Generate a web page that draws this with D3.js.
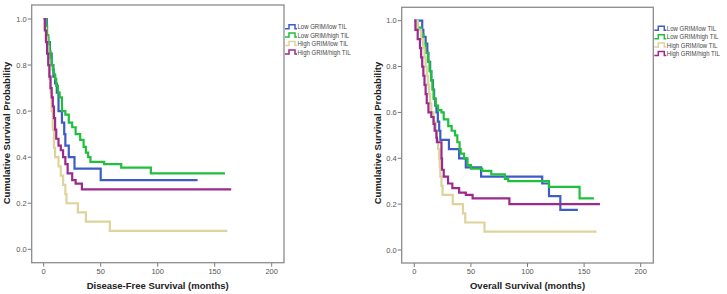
<!DOCTYPE html>
<html>
<head>
<meta charset="utf-8">
<script src="https://cdn.jsdelivr.net/npm/d3@7"></script>
<style>
body { margin: 0; background: #fff; }
text { font-family: Arial, "Liberation Sans", sans-serif; }
</style>
</head>
<body>
<div id="chart"></div>
<script>
const groups = ["Low GRIM/low TIL", "Low GRIM/high TIL", "High GRIM/low TIL", "High GRIM/high TIL"];
const colors = ["#3d5cc6", "#20bf3c", "#ddd49c", "#9b2a8c"];
const xTicks = [0, 50, 100, 150, 200];
const yTicks = [0.0, 0.2, 0.4, 0.6, 0.8, 1.0];

// Disease-free survival: event times (months) and survival after each step
const dfsLowLowT  = [0, 2.7, 4, 5.5, 7, 8.5, 10, 11.5, 13, 16, 18, 19, 22, 27, 50];
const dfsLowLowS  = [1, 0.92, 0.9, 0.85, 0.8, 0.75, 0.72, 0.68, 0.6, 0.55, 0.5, 0.45, 0.4, 0.35, 0.30];
const dfsLowHighT = [0, 2, 3, 4, 5, 6, 7, 8, 9, 10, 11, 12.5, 14, 16, 19, 22, 25, 28, 32, 35, 37, 39, 41, 53, 68, 94];
const dfsLowHighS = [1, 0.97, 0.93, 0.9, 0.86, 0.83, 0.8, 0.78, 0.76, 0.74, 0.71, 0.68, 0.66, 0.6, 0.585, 0.55, 0.53, 0.5, 0.475, 0.445, 0.42, 0.40, 0.38, 0.37, 0.355, 0.33];
const dfsHighLowT = [0, 1, 2, 3, 4, 5, 6, 7, 8, 9, 10, 13, 15, 17, 19, 20, 30, 37, 58];
const dfsHighLowS = [1, 0.96, 0.92, 0.88, 0.8, 0.74, 0.68, 0.6, 0.52, 0.44, 0.40, 0.36, 0.32, 0.28, 0.24, 0.20, 0.16, 0.12, 0.08];
const dfsHighHighT = [0, 1, 2, 3, 4, 5, 6, 7, 8, 9, 10, 11, 13, 15, 17, 19, 21, 25, 28, 33.5];
const dfsHighHighS = [1, 0.95, 0.9, 0.85, 0.8, 0.75, 0.7, 0.66, 0.62, 0.57, 0.52, 0.48, 0.45, 0.43, 0.40, 0.37, 0.33, 0.30, 0.285, 0.26];
const dfsEnd = [135, 159, 161, 164.5];

// Overall survival
const osLowLowT  = [0, 7, 8, 10, 11.5, 12.5, 14, 15, 16.5, 17.5, 18.5, 19.6, 20.8, 22, 23, 30.6, 39.6, 45.5, 59, 113, 119, 129];
const osLowLowS  = [1, 0.96, 0.93, 0.9, 0.86, 0.82, 0.78, 0.74, 0.7, 0.66, 0.63, 0.6, 0.56, 0.52, 0.48, 0.44, 0.40, 0.36, 0.32, 0.29, 0.235, 0.175];
const osLowHighT = [0, 3, 6, 8, 10, 12, 13.5, 15, 16, 17, 19, 21, 24, 26, 30, 33, 36, 38, 40, 41, 44, 47, 50, 60, 68, 80, 83, 119, 146];
const osLowHighS = [1, 0.97, 0.94, 0.9, 0.86, 0.82, 0.78, 0.74, 0.7, 0.66, 0.63, 0.61, 0.6, 0.57, 0.54, 0.52, 0.5, 0.47, 0.44, 0.42, 0.4, 0.37, 0.355, 0.345, 0.33, 0.31, 0.30, 0.275, 0.225];
const osHighLowT = [0, 3, 6, 8, 9, 10, 11, 12, 13, 14, 15, 17, 19, 20, 21, 22, 22.5, 23, 24, 25, 34, 43, 45, 62];
const osHighLowS = [1, 0.96, 0.92, 0.88, 0.84, 0.8, 0.76, 0.72, 0.68, 0.64, 0.6, 0.56, 0.52, 0.48, 0.44, 0.40, 0.36, 0.32, 0.28, 0.24, 0.2, 0.16, 0.12, 0.08];
const osHighHighT = [0, 1, 3, 5, 6, 7, 8, 9, 10, 11, 12.5, 15, 17, 18, 19.5, 20, 24, 24.5, 26, 29.8, 33.6, 39.6, 45.5, 51.5, 84];
const osHighHighS = [1, 0.96, 0.92, 0.88, 0.84, 0.8, 0.76, 0.72, 0.68, 0.64, 0.6, 0.58, 0.55, 0.52, 0.49, 0.47, 0.4, 0.35, 0.32, 0.29, 0.27, 0.25, 0.24, 0.225, 0.2];
const osEnd = [144.5, 158.7, 161, 164];

function buildSeries(times, survs, ends) {
    return times.map((t, i) => {
        var pts = t.map((d, j) => [d, survs[i][j]]);
        pts.push([ends[i], survs[i][survs[i].length - 1]]);
        return pts;
    });
}

var dfsSeries = buildSeries(
    [dfsLowLowT, dfsLowHighT, dfsHighLowT, dfsHighHighT],
    [dfsLowLowS, dfsLowHighS, dfsHighLowS, dfsHighHighS], dfsEnd);
var osSeries = buildSeries(
    [osLowLowT, osLowHighT, osHighLowT, osHighHighT],
    [osLowLowS, osLowHighS, osHighLowS, osHighHighS], osEnd);

var svg = d3.select("#chart")
    .append("svg")
    .attr("width", 727)
    .attr("height", 294);

function drawPanel(p) {
    var g = svg.append("g");

    var xScale = d3.scaleLinear().domain([0, 200]).range(p.xRange);
    var yScale = d3.scaleLinear().domain([0, 1]).range(p.yRange);

    // x ticks
    g.selectAll(".xt")
        .data(xTicks)
        .enter()
        .append("line")
        .attr("x1", d => xScale(d)).attr("x2", d => xScale(d))
        .attr("y1", p.frame[3]).attr("y2", p.frame[3] + 4)
        .attr("stroke", "#777").attr("stroke-width", 1);
    g.selectAll(".xl")
        .data(xTicks)
        .enter()
        .append("text")
        .attr("x", d => xScale(d))
        .attr("y", p.frame[3] + 11)
        .attr("text-anchor", "middle")
        .attr("font-size", "7.5px")
        .attr("fill", "#555")
        .text(d => d);

    // y ticks
    g.selectAll(".yt")
        .data(yTicks)
        .enter()
        .append("line")
        .attr("x1", p.frame[0] - 4).attr("x2", p.frame[0])
        .attr("y1", d => yScale(d)).attr("y2", d => yScale(d))
        .attr("stroke", "#777").attr("stroke-width", 1);
    g.selectAll(".yl")
        .data(yTicks)
        .enter()
        .append("text")
        .attr("x", p.frame[0] - 5)
        .attr("y", d => yScale(d) + 2.6)
        .attr("text-anchor", "end")
        .attr("font-size", "7.5px")
        .attr("fill", "#555")
        .text(d => d.toFixed(1));

    // curves
    var line = d3.line()
        .x(d => xScale(d[0]))
        .y(d => yScale(d[1]))
        .curve(d3.curveStepAfter);

    g.selectAll(".curve")
        .data(p.series)
        .enter()
        .append("path")
        .attr("d", line)
        .attr("fill", "none")
        .attr("stroke", (d, i) => colors[i])
        .attr("stroke-width", 2.2);

    // frame
    g.append("rect")
        .attr("x", p.frame[0]).attr("y", p.frame[1])
        .attr("width", p.frame[2] - p.frame[0])
        .attr("height", p.frame[3] - p.frame[1])
        .attr("fill", "none")
        .attr("stroke", "#8c8c8c")
        .attr("stroke-width", 1.3);

    // axis titles
    g.append("text")
        .attr("x", (p.xRange[0] + p.xRange[1]) / 2)
        .attr("y", 289)
        .attr("text-anchor", "middle")
        .attr("font-size", "9.5px")
        .attr("font-weight", "bold")
        .attr("fill", "#222")
        .text(p.xTitle);
    g.append("text")
        .attr("transform", "translate(" + p.yTitleX + ",133) rotate(-90)")
        .attr("text-anchor", "middle")
        .attr("font-size", "9.5px")
        .attr("font-weight", "bold")
        .attr("fill", "#222")
        .text("Cumulative Survival Probability");

    // legend
    var leg = g.selectAll(".leg")
        .data(groups)
        .enter()
        .append("g")
        .attr("transform", (d, i) => "translate(" + (p.frame[2] + 1) + "," + (p.legendY + i * 8.4) + ")");
    leg.append("path")
        .attr("d", "M0,2H4V-2H10V2H12")
        .attr("fill", "none")
        .attr("stroke", (d, i) => colors[i])
        .attr("stroke-width", 1.5);
    leg.append("text")
        .attr("transform", "translate(12.5,2.6) scale(0.86,1)")
        .attr("font-size", "7px")
        .attr("fill", "#444")
        .text(d => d);
}

drawPanel({
    series: dfsSeries,
    frame: [31.7, 5, 284, 262.7],
    xRange: [43.7, 271.7],
    yRange: [249.3, 19],
    xTitle: "Disease-Free Survival (months)",
    yTitleX: 10,
    legendY: 26.7
});

drawPanel({
    series: osSeries,
    frame: [401.7, 7.3, 653.3, 263],
    xRange: [414.3, 640.7],
    yRange: [250, 20.7],
    xTitle: "Overall Survival (months)",
    yTitleX: 381,
    legendY: 28.3
});
</script>
</body>
</html>
